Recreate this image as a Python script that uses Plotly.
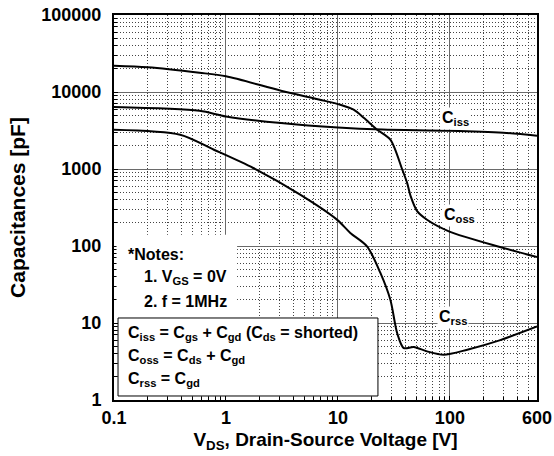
import plotly.graph_objects as go

# ---- data ----
coss_v = [0.1, 0.2, 0.58, 1.0, 3.1, 6.9, 10.5, 13.8, 17, 22.4, 29.4, 37.4, 41.5, 44.7, 51, 62.5, 98, 280, 600]
coss_c = [22000, 21000, 17800, 16000, 10400, 7940, 6830, 5890, 4640, 3240, 2400, 1000, 660, 440, 283, 219, 155, 97, 72]

ciss_v = [0.1, 0.58, 1.0, 3.1, 10, 25, 100, 300, 600]
ciss_c = [6380, 5700, 4820, 3950, 3450, 3250, 3150, 2960, 2700]

crss_v = [0.1, 0.39, 0.78, 1.75, 4.6, 9.8, 12.9, 18.2, 23.9, 29.4, 33.8, 38.7, 47.5, 62.5, 88, 143, 282, 600]
crss_c = [3240, 2790, 1780, 1030, 464, 220, 148, 99, 45, 20, 7.4, 4.73, 4.88, 4.28, 3.87, 4.5, 6.0, 9.0]

x_tick_vals = [0.1, 1, 10, 100, 600]
x_tick_text = ["0.1", "1", "10", "100", "600"]
y_tick_vals = [1, 10, 100, 1000, 10000, 100000]
y_tick_text = ["1", "10", "100", "1000", "10000", "100000"]

FONT = "Arial, Liberation Sans, sans-serif"

fig = go.Figure()
for xs, ys in [(coss_v, coss_c), (ciss_v, ciss_c), (crss_v, crss_c)]:
    fig.add_trace(go.Scatter(x=xs, y=ys, mode="lines",
                             line=dict(color="black", width=2, shape="spline", smoothing=0.8),
                             showlegend=False, hoverinfo="skip"))

minor_x = [m * 10 ** e for e in range(-1, 3) for m in range(2, 10) if m * 10 ** e <= 600]
minor_y = [m * 10 ** e for e in range(0, 5) for m in range(2, 10)]

fig.update_xaxes(type="log", range=[-1, 2.77815], tickmode="array",
                 tickvals=x_tick_vals, ticktext=x_tick_text,
                 tickfont=dict(family=FONT, size=18, color="black", weight="bold"),
                 showgrid=True, gridcolor="#6a6a6a", gridwidth=1.2,
                 showline=True, linecolor="black", linewidth=2, mirror=True,
                 ticks="inside", ticklen=4, tickcolor="black", zeroline=False,
                 automargin=False, ticklabelstandoff=0, ticklabeloverflow="allow",
                 minor=dict(tickmode="array", tickvals=minor_x, showgrid=True,
                            gridcolor="#444444", griddash="1px,2px", gridwidth=1,
                            ticks="inside", ticklen=3, tickcolor="black"),
                 title=dict(text="V<sub>DS</sub>, Drain-Source Voltage [V]", standoff=6,
                            font=dict(family=FONT, size=19, color="black", weight="bold")))
fig.update_yaxes(type="log", range=[0, 5], tickmode="array",
                 tickvals=y_tick_vals, ticktext=y_tick_text,
                 tickfont=dict(family=FONT, size=18, color="black", weight="bold"),
                 showgrid=True, gridcolor="#6a6a6a", gridwidth=1.2,
                 showline=True, linecolor="black", linewidth=2, mirror=True,
                 ticks="inside", ticklen=4, tickcolor="black", zeroline=False,
                 automargin=False, ticklabelstandoff=7, ticklabeloverflow="allow",
                 minor=dict(tickmode="array", tickvals=minor_y, showgrid=True,
                            gridcolor="#444444", griddash="1px,2px", gridwidth=1,
                            ticks="inside", ticklen=3, tickcolor="black"),
                 title=dict(text="Capacitances [pF]", standoff=10,
                            font=dict(family=FONT, size=21, color="black", weight="bold")))

# white area behind notes
fig.add_shape(type="rect", xref="paper", yref="paper", x0=0.006, x1=0.291, y0=0.213, y1=0.429,
              fillcolor="white", line=dict(width=0), layer="above")
# legend box
fig.add_shape(type="rect", xref="paper", yref="paper", x0=0.0095, x1=0.624, y0=0.0104, y1=0.213,
              fillcolor="white", line=dict(color="black", width=1), layer="above")

tf = dict(family=FONT, size=16, color="black", weight="bold")
ann = [
    ("*Notes:", 0.028, 0.379),
    ("1. V<sub>GS</sub> = 0V", 0.066, 0.317),
    ("2. f = 1MHz", 0.066, 0.257),
    ("C<sub>iss</sub> = C<sub>gs</sub> + C<sub>gd</sub> (C<sub>ds</sub> = shorted)", 0.028, 0.174),
    ("C<sub>oss</sub> = C<sub>ds</sub> + C<sub>gd</sub>", 0.028, 0.112),
    ("C<sub>rss</sub> = C<sub>gd</sub>", 0.028, 0.052),
]
for t, x, y in ann:
    fig.add_annotation(text=t, x=x, y=y, xref="paper", yref="paper", xanchor="left",
                       yanchor="middle", showarrow=False, font=tf)

for t, x, y in [("C<sub>iss</sub>", 0.845, 0.760), ("C<sub>oss</sub>", 0.858, 0.480),
                ("C<sub>rss</sub>", 0.840, 0.185)]:
    fig.add_annotation(text=t, x=x, y=y, xref="paper", yref="paper", showarrow=False,
                       font=tf, bgcolor="white")

fig.update_layout(width=554, height=456, margin=dict(l=114, r=17, t=15, b=56),
                  plot_bgcolor="white", paper_bgcolor="white")

fig.write_html("out.html", config={"displayModeBar": False},
               post_script="document.body.style.margin='0';document.body.style.overflow='hidden';")
